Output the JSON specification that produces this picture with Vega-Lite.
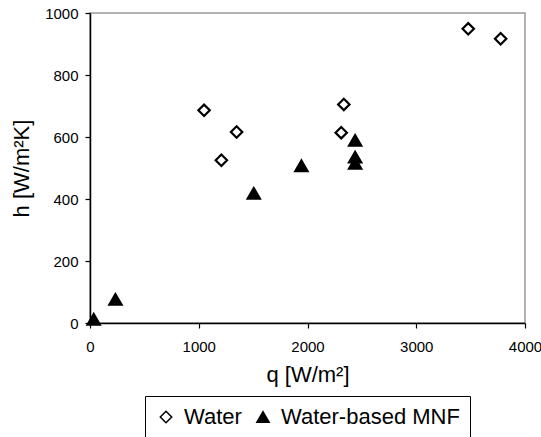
{
  "$schema": "https://vega.github.io/schema/vega-lite/v6.json",
  "width": 435,
  "height": 310,
  "autosize": {"type": "none"},
  "padding": {"left": 90, "top": 13, "right": 16, "bottom": 114},
  "background": "white",
  "config": {
    "font": "Liberation Sans",
    "view": {"stroke": "#999999", "strokeWidth": 1.5},
    "axis": {
      "grid": false,
      "domainColor": "black",
      "domainWidth": 1.5,
      "tickColor": "black",
      "tickWidth": 1.2,
      "tickSize": 5,
      "labelFont": "Liberation Sans",
      "labelFontSize": 15,
      "labelColor": "black",
      "titleFont": "Liberation Sans",
      "titleFontSize": 22,
      "titleFontWeight": "normal",
      "titleColor": "black"
    },
    "legend": {
      "labelFont": "Liberation Sans",
      "labelFontSize": 22,
      "labelColor": "black",
      "labelLimit": 400,
      "layout": {"bottom": {"anchor": "middle"}}
    }
  },
  "data": {
    "values": [
      {"q": 1049, "h": 686, "series": "Water"},
      {"q": 1208, "h": 525, "series": "Water"},
      {"q": 1348, "h": 616, "series": "Water"},
      {"q": 2334, "h": 705, "series": "Water"},
      {"q": 2310, "h": 614, "series": "Water"},
      {"q": 3478, "h": 949, "series": "Water"},
      {"q": 3776, "h": 917, "series": "Water"},
      {"q": 34, "h": 12, "series": "Water-based MNF"},
      {"q": 234, "h": 76, "series": "Water-based MNF"},
      {"q": 1506, "h": 418, "series": "Water-based MNF"},
      {"q": 1944, "h": 507, "series": "Water-based MNF"},
      {"q": 2438, "h": 589, "series": "Water-based MNF"},
      {"q": 2438, "h": 535, "series": "Water-based MNF"},
      {"q": 2438, "h": 515, "series": "Water-based MNF"}
    ]
  },
  "mark": {"type": "point", "filled": true, "stroke": "black", "strokeWidth": 2.2, "opacity": 1},
  "encoding": {
    "x": {
      "field": "q",
      "type": "quantitative",
      "scale": {"domain": [0, 4000], "nice": false, "zero": true},
      "axis": {"values": [0, 1000, 2000, 3000, 4000], "format": "d", "title": "q [W/m²]", "labelPadding": 11, "titlePadding": 10, "labelFlush": false}
    },
    "y": {
      "field": "h",
      "type": "quantitative",
      "scale": {"domain": [0, 1000], "nice": false},
      "axis": {"values": [0, 200, 400, 600, 800, 1000], "format": "d", "title": "h [W/m²K]", "labelPadding": 7, "titlePadding": 11, "labelFlush": false}
    },
    "shape": {
      "field": "series",
      "type": "nominal",
      "scale": {"domain": ["Water", "Water-based MNF"], "range": ["diamond", "triangle-up"]},
      "legend": {
        "title": null,
        "orient": "bottom",
        "direction": "horizontal",
        "strokeColor": "black",
        "fillColor": "white",
        "padding": 10,
        "offset": 11,
        "labelOffset": 7,
        "columnPadding": 10,
        "encode": {"symbols": {"update": {"stroke": {"value": "black"}, "strokeWidth": {"value": 2.2}, "opacity": {"value": 1}}}}
      }
    },
    "fill": {
      "field": "series",
      "type": "nominal",
      "scale": {"domain": ["Water", "Water-based MNF"], "range": ["white", "black"]},
      "legend": {
        "title": null,
        "orient": "bottom",
        "direction": "horizontal",
        "strokeColor": "black",
        "fillColor": "white",
        "padding": 10,
        "offset": 11,
        "labelOffset": 7,
        "columnPadding": 10,
        "encode": {"symbols": {"update": {"stroke": {"value": "black"}, "strokeWidth": {"value": 2.2}, "opacity": {"value": 1}}}}
      }
    },
    "size": {
      "field": "series",
      "type": "nominal",
      "scale": {"domain": ["Water", "Water-based MNF"], "range": [130, 150]},
      "legend": {
        "title": null,
        "orient": "bottom",
        "direction": "horizontal",
        "strokeColor": "black",
        "fillColor": "white",
        "padding": 10,
        "offset": 11,
        "labelOffset": 7,
        "columnPadding": 10,
        "encode": {"symbols": {"update": {"stroke": {"value": "black"}, "strokeWidth": {"value": 2.2}, "opacity": {"value": 1}}}}
      }
    }
  }
}
